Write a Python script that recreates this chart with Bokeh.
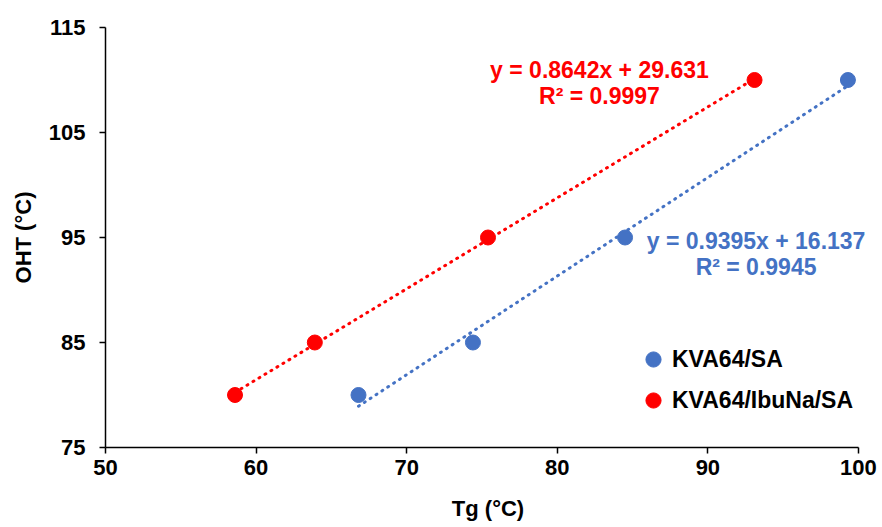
import numpy as np
from bokeh.plotting import figure
from bokeh.models import FixedTicker, Legend, LegendItem, Label, Range1d
from bokeh.embed import file_html
from bokeh.resources import INLINE

# Data
tg_sa = [66.8, 74.4, 84.5, 99.3]
oht_sa = [80, 85, 95, 110]
tg_ibu = [58.6, 63.9, 75.4, 93.1]
oht_ibu = [80, 85, 95, 110]

x_ticks = [50, 60, 70, 80, 90, 100]
y_ticks = [75, 85, 95, 105, 115]
x_axis_bounds = (50, 100)

series_names = ["KVA64/SA", "KVA64/IbuNa/SA"]
eq_texts = [("y = 0.9395x + 16.137", "R² = 0.9945"), ("y = 0.8642x + 29.631", "R² = 0.9997")]
eq_pos = [(93.2, 94.7), (82.8, 111.0)]

BLUE = "#4472C4"
RED = "#FF0000"
FONT = "Liberation Sans"

# frame extends slightly past x=100 (axis bounded at 100) so that the
# equation text near the right edge is not clipped
p = figure(width=882, height=527, output_backend="svg", toolbar_location=None,
           x_range=Range1d(50, 100.8), y_range=Range1d(75, 115),
           min_border_left=105, min_border_right=12, min_border_top=27, min_border_bottom=80)
p.outline_line_color = None
p.grid.visible = False
p.background_fill_color = "white"

for ax in (p.xaxis[0], p.yaxis[0]):
    ax.axis_line_color = "black"
    ax.axis_line_width = 1.5
    ax.major_tick_line_color = "black"
    ax.major_tick_line_width = 1.5
    ax.major_tick_out = 6
    ax.major_tick_in = 0
    ax.minor_tick_line_color = None
    ax.major_label_text_font = FONT
    ax.major_label_text_font_style = "bold"
    ax.major_label_text_font_size = "22px"
    ax.major_label_text_color = "black"
    ax.axis_label_text_font = FONT
    ax.axis_label_text_font_style = "bold"
    ax.axis_label_text_font_size = "22px"
    ax.axis_label_text_color = "black"

p.xaxis.bounds = x_axis_bounds
p.xaxis.ticker = FixedTicker(ticks=x_ticks)
p.yaxis.ticker = FixedTicker(ticks=y_ticks)
p.xaxis.axis_label = "Tg (°C)"
p.yaxis.axis_label = "OHT (°C)"
p.xaxis.major_label_standoff = 6
p.yaxis.major_label_standoff = 14
p.xaxis.axis_label_standoff = 18
p.yaxis.axis_label_standoff = 10

items = []
for xs, ys, color, name, (l1, l2), (lx, ly) in [
    (tg_sa, oht_sa, BLUE, series_names[0], eq_texts[0], eq_pos[0]),
    (tg_ibu, oht_ibu, RED, series_names[1], eq_texts[1], eq_pos[1]),
]:
    m, b = np.polyfit(xs, ys, 1)
    xl = np.array([min(xs), max(xs)])
    p.line(xl, m * xl + b, line_color=color, line_width=3, line_dash="1 6", line_cap="round")
    r = p.scatter(xs, ys, size=15, fill_color=color, line_color=color, marker="circle")
    items.append(LegendItem(label=name, renderers=[r]))
    for txt, dy in ((l1, 0), (l2, 26)):
        p.add_layout(Label(x=lx, y=ly, x_units="data", y_units="data", y_offset=-dy,
                           text=txt, text_align="center", text_baseline="middle",
                           text_font=FONT, text_font_style="bold", text_font_size="23px",
                           text_color=color))

legend = Legend(items=items, location=(529, 28), orientation="vertical",
                label_text_font=FONT, label_text_font_style="bold",
                label_text_font_size="23px", label_text_color="black",
                background_fill_alpha=0, border_line_color=None,
                spacing=3, glyph_width=38, glyph_height=38, label_standoff=0,
                padding=0, margin=0)
p.add_layout(legend)

open("out.html", "w").write(file_html(p, INLINE))
